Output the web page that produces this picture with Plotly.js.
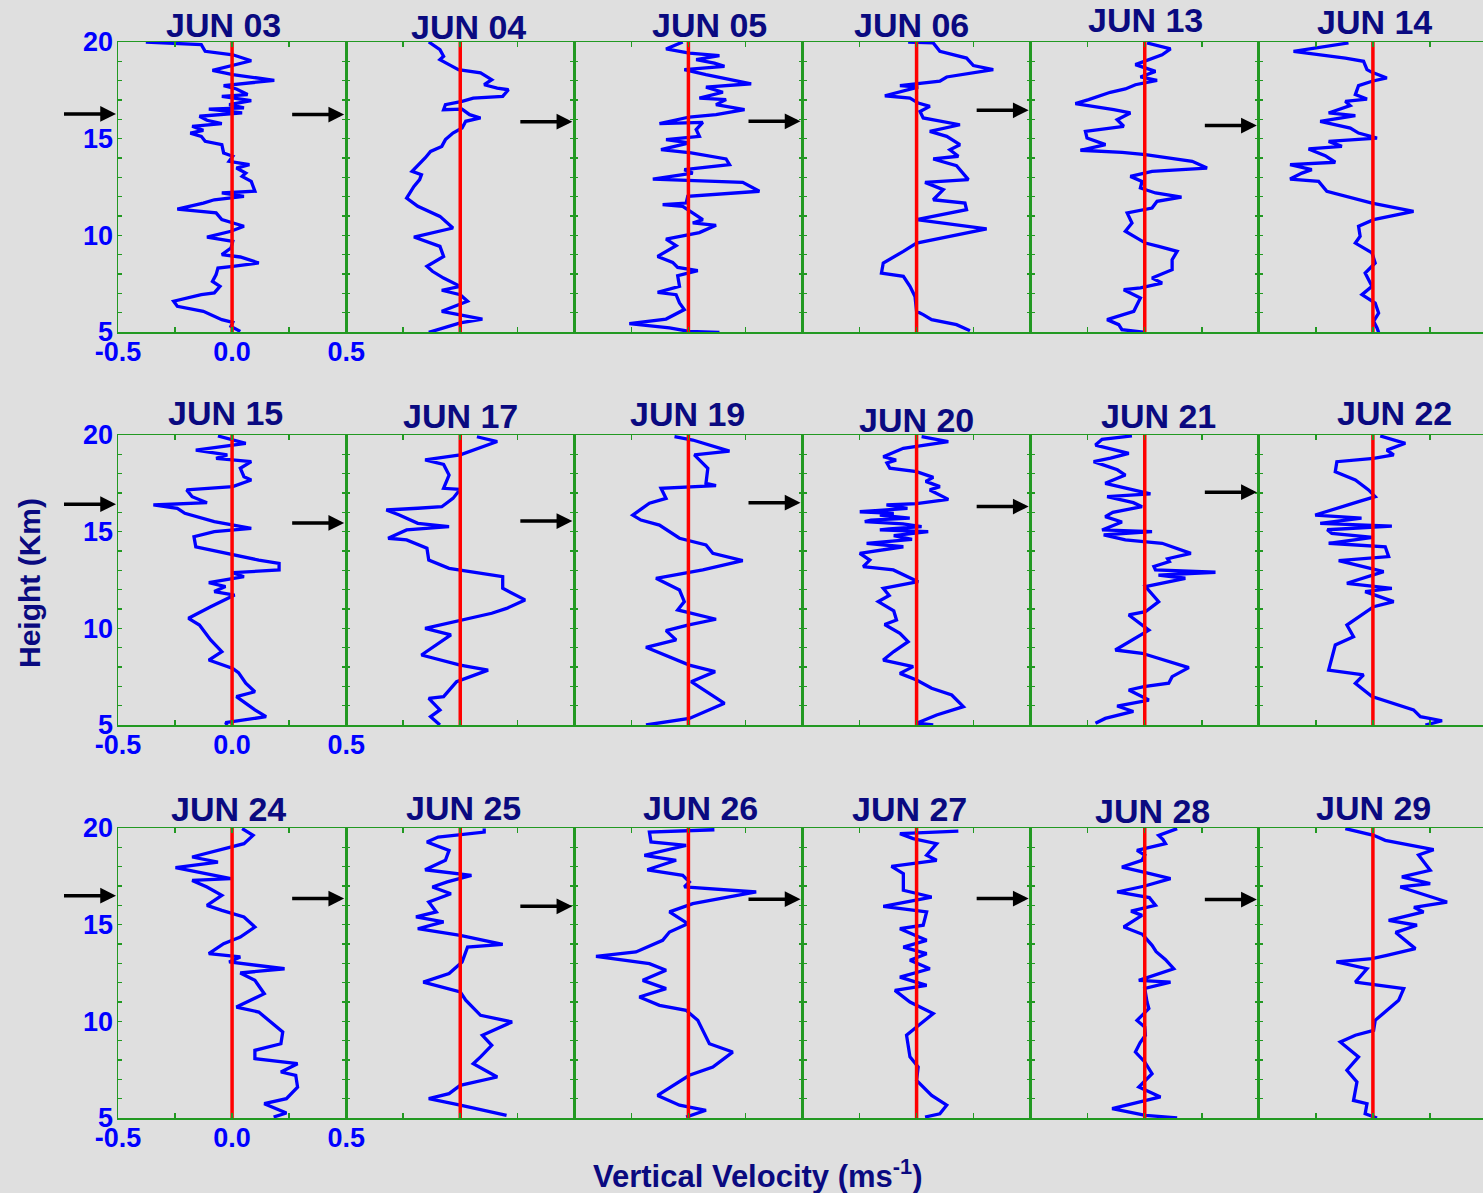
<!DOCTYPE html>
<html><head><meta charset="utf-8">
<script src="https://cdn.plot.ly/plotly-3.0.1.min.js"></script>
<style>html,body{margin:0;padding:0;overflow:hidden;background:#dfdfdf}</style>
</head><body><div id="chart"></div>
<script>
// ---------------- DATA ----------------
const dayLabels = ["JUN 03","JUN 04","JUN 05","JUN 06","JUN 13","JUN 14",
                   "JUN 15","JUN 17","JUN 19","JUN 20","JUN 21","JUN 22",
                   "JUN 24","JUN 25","JUN 26","JUN 27","JUN 28","JUN 29"];

// each profile: [height (km), vertical velocity (m/s)]
const jun03 = [[20,-0.378],[19.86,-0.135],[19.52,-0.118],[19.34,0.003],[19.03,0.084],[18.53,-0.086],[18.31,0.003],[18.02,0.185],[17.74,-0.037],[17.57,0.019],[17.28,0.068],[17.19,-0.045],[16.97,0.084],[16.76,-0.013],[16.59,0.052],[16.53,-0.102],[16.33,0.044],[16.16,-0.143],[15.95,-0.11],[15.78,-0.045],[15.64,-0.175],[15.43,-0.126],[15.29,-0.183],[15.12,-0.135],[14.86,-0.118],[14.69,-0.045],[14.26,-0.037],[14.09,0.003],[13.83,-0.013],[13.66,0.076],[13.48,0.019],[13.22,0.06],[13.05,0.044],[12.79,0.084],[12.28,0.1],[12.19,-0.045],[12.02,0.052],[11.84,-0.078],[11.67,-0.126],[11.36,-0.24],[11.16,-0.07],[10.81,-0.045],[10.47,0.052],[10.21,-0.005],[9.91,-0.11],[9.69,0.003],[9.34,-0.005],[9.0,-0.045],[8.88,0.036],[8.57,0.117],[8.4,0.003],[8.31,-0.062],[7.97,-0.07],[7.62,-0.086],[7.36,-0.053],[7.02,-0.078],[6.93,-0.135],[6.59,-0.256],[6.33,-0.24],[6.07,-0.126],[5.64,-0.045],[5.5,0.003],[5.29,-0.005],[5.03,0.036]];
const jun04 = [[20,-0.138],[19.78,-0.113],[19.6,-0.089],[19.26,-0.073],[19.09,-0.089],[18.83,-0.049],[18.57,-0.008],[18.4,0.089],[18.05,0.138],[17.79,0.105],[17.62,0.162],[17.53,0.211],[17.19,0.186],[17.1,0.057],[16.93,0.008],[16.76,-0.065],[16.5,-0.073],[16.53,0.008],[16.24,0.041],[16.07,0.089],[15.9,0.024],[15.55,0.008],[15.29,-0.032],[14.95,-0.065],[14.6,-0.081],[14.34,-0.13],[14.0,-0.154],[13.31,-0.211],[13.14,-0.17],[12.88,-0.178],[12.53,-0.203],[11.93,-0.235],[11.5,-0.186],[10.98,-0.089],[10.38,-0.032],[9.91,-0.203],[9.6,-0.13],[9.43,-0.089],[8.91,-0.073],[8.4,-0.146],[8.14,-0.122],[7.79,-0.073],[7.36,0],[7.16,-0.081],[6.93,0],[6.59,0.032],[6.07,-0.081],[5.9,0],[5.67,0.097],[5.47,0],[5.21,-0.073],[4.98,-0.138]];
const jun05 = [[20,-0.025],[19.64,-0.098],[19.43,0.004],[19.29,0.136],[19.09,0.034],[18.91,0.114],[18.74,0.158],[18.57,-0.018],[18.31,0.077],[18.05,0.194],[17.84,0.275],[17.67,0.077],[17.4,0.151],[17.1,0.048],[17.02,0.165],[16.76,0.121],[16.5,0.246],[16.24,0.121],[16.12,0.004],[15.78,-0.127],[15.84,0.063],[15.47,0.034],[15.12,0.048],[14.95,-0.098],[14.78,0.004],[14.43,-0.12],[14.26,0.012],[13.95,0.165],[13.66,0.18],[13.4,-0.018],[13.22,0.019],[12.91,-0.156],[12.74,0.238],[12.28,0.311],[12.02,-0.003],[11.67,-0.01],[11.59,-0.113],[11.5,-0.025],[11.07,0.034],[10.81,0.063],[10.64,0.019],[10.52,0.121],[10.14,0.048],[9.8,-0.098],[9.47,-0.054],[8.91,-0.135],[8.6,-0.069],[8.34,-0.047],[8.17,0.041],[7.91,-0.047],[7.36,-0.039],[7.05,-0.135],[6.93,-0.054],[6.5,-0.039],[6.16,-0.018],[5.67,-0.098],[5.43,-0.259],[5.21,-0.083],[5.03,0.004],[4.98,0.136]];
const jun06 = [[20,-0.037],[19.95,0.073],[19.52,0.102],[19.17,0.219],[18.78,0.249],[18.57,0.336],[18.19,0.132],[17.97,0.102],[17.74,-0.073],[17.67,0.007],[17.22,-0.139],[17.1,-0.029],[16.84,0.007],[16.67,0.058],[16.41,0.015],[16.07,0.029],[15.72,0.19],[15.38,0.058],[15.12,0.132],[14.69,0.19],[14.43,0.146],[14.09,0.183],[13.95,0.073],[13.6,0.175],[12.88,0.227],[12.74,0.037],[12.36,0.117],[11.84,0.073],[11.67,0.212],[11.33,0.219],[10.81,0],[10.33,0.307],[9.6,0],[9.17,-0.058],[8.57,-0.146],[8.05,-0.154],[7.88,-0.058],[7.36,-0.029],[6.84,-0.007],[6.07,0],[5.9,0.029],[5.64,0.066],[5.38,0.175],[5.07,0.234]];
const jun13 = [[19.95,0.01],[19.64,0.113],[19.34,0.076],[18.83,-0.041],[18.48,0.047],[18.19,-0.019],[18.02,0.054],[17.79,-0.041],[17.57,-0.085],[17.4,-0.151],[17.02,-0.246],[16.81,-0.304],[16.5,-0.136],[16.33,-0.063],[15.98,-0.121],[15.64,-0.092],[15.38,-0.26],[15.03,-0.253],[14.69,-0.172],[14.4,-0.282],[14.29,-0.099],[14.17,0.003],[13.83,0.208],[13.48,0.273],[13.31,0.032],[13.05,-0.063],[12.79,-0.012],[12.45,-0.019],[12.19,0.047],[11.98,0.161],[11.76,0.054],[11.41,0.032],[11.16,-0.077],[10.64,-0.056],[10.21,-0.085],[9.6,0.003],[9.43,0.061],[9.17,0.142],[8.74,0.12],[8.22,0.12],[7.79,0.032],[7.53,0.076],[7.28,-0.019],[7.19,-0.092],[6.76,-0.019],[6.07,-0.048],[5.64,-0.165],[5.38,-0.114],[5.12,-0.1],[4.98,0.003]];
const jun14 = [[19.95,-0.107],[19.52,-0.348],[19.17,-0.121],[19.0,-0.041],[18.57,-0.026],[18.43,-0.004],[18.14,0.061],[17.97,-0.004],[17.74,-0.063],[17.28,-0.077],[17.05,-0.026],[16.93,-0.121],[16.71,-0.1],[16.33,-0.194],[16.19,-0.077],[15.9,-0.231],[15.55,-0.099],[15.29,-0.063],[15.03,0.018],[14.86,-0.194],[14.6,-0.136],[14.47,-0.282],[14.12,-0.209],[13.78,-0.165],[13.66,-0.363],[13.4,-0.268],[13.22,-0.311],[12.91,-0.363],[12.79,-0.238],[12.28,-0.202],[11.67,-0.004],[11.24,0.178],[10.81,0.003],[10.47,-0.063],[9.95,-0.056],[9.6,-0.077],[9.09,-0.004],[8.57,0.01],[8.05,-0.034],[7.36,-0.004],[6.93,-0.048],[6.5,0.01],[5.98,0.025],[5.55,0.003],[5.21,0.018],[4.98,0.025]];
const jun15 = [[19.95,-0.062],[19.57,0.06],[19.22,-0.159],[18.97,-0.021],[18.79,-0.07],[18.62,0.084],[18.28,0.036],[17.84,0.052],[17.67,0.084],[17.33,0.003],[17.16,-0.199],[16.81,-0.175],[16.5,-0.11],[16.38,-0.345],[16.21,-0.24],[15.95,-0.207],[15.52,-0.078],[15.34,0.003],[15.17,0.084],[15.0,-0.078],[14.74,-0.167],[14.22,-0.159],[13.97,-0.062],[13.83,-0.005],[13.53,0.117],[13.36,0.206],[13.02,0.206],[12.88,0.003],[12.67,0.052],[12.36,-0.102],[12.16,-0.029],[11.9,-0.078],[11.72,0.011],[11.12,-0.094],[10.52,-0.191],[10.17,-0.143],[9.4,-0.094],[8.79,-0.045],[8.36,-0.102],[7.93,0.003],[7.71,0.028],[7.16,0.06],[6.72,0.1],[6.47,0.019],[5.78,0.1],[5.43,0.149],[5.12,-0.029],[5.0,-0.02]];
const jun17 = [[19.91,0.073],[19.66,0.162],[18.97,0],[18.71,-0.154],[18.48,-0.073],[17.93,-0.049],[17.24,-0.073],[17.19,0],[16.72,-0.032],[16.29,-0.081],[16.21,-0.186],[16.12,-0.324],[15.86,-0.267],[15.43,-0.186],[15.26,-0.049],[15.09,-0.235],[14.66,-0.316],[14.57,-0.235],[14.14,-0.146],[13.53,-0.138],[13.1,-0.049],[12.67,0.186],[12.07,0.186],[11.47,0.284],[11.03,0.203],[10.78,0.138],[10.0,-0.154],[9.66,-0.041],[8.62,-0.17],[8.1,0],[7.84,0.122],[7.24,-0.016],[6.47,-0.073],[6.38,-0.138],[5.78,-0.089],[5.43,-0.13],[5.0,-0.089]];
const jun19 = [[19.91,-0.061],[19.74,0.019],[19.17,0.18],[18.97,0.026],[18.28,0.085],[17.5,0.077],[17.38,0.121],[17.24,-0.12],[16.72,-0.098],[16.47,-0.171],[15.86,-0.244],[15.6,-0.208],[15.34,-0.127],[14.66,-0.039],[14.31,0.077],[13.88,0.107],[13.5,0.238],[13.02,0.063],[12.59,-0.142],[11.98,-0.039],[11.38,-0.018],[10.95,-0.047],[10.47,0.121],[10.17,-0.003],[9.88,-0.098],[9.4,-0.054],[9.02,-0.186],[8.1,0.004],[7.76,0.117],[7.24,0.012],[6.12,0.158],[5.34,0.004],[5.0,-0.186]];
const jun20 = [[19.91,0.022],[19.66,0.139],[19.31,-0.058],[18.88,-0.146],[18.7,-0.09],[18.55,-0.13],[18.28,-0.117],[18.1,0],[17.81,0.073],[17.6,0.04],[17.33,0.102],[17.16,0.058],[16.67,0.139],[16.45,0.0],[16.38,-0.132],[16.2,-0.04],[16.03,-0.249],[15.95,-0.1],[15.86,-0.161],[15.7,-0.03],[15.6,-0.2],[15.52,-0.227],[15.4,-0.06],[15.26,0.022],[15.15,-0.12],[15.09,-0.161],[15.0,0.051],[14.8,-0.1],[14.6,-0.02],[14.4,-0.219],[14.22,-0.058],[13.88,-0.249],[13.53,-0.205],[13.19,-0.234],[13.02,-0.102],[12.41,0.007],[12.07,-0.146],[11.7,-0.12],[11.38,-0.168],[10.9,-0.1],[10.43,-0.088],[10.2,-0.14],[9.74,-0.073],[9.31,-0.037],[8.8,-0.1],[8.36,-0.146],[8.02,-0.015],[7.67,-0.073],[7.33,0],[6.9,0.066],[6.55,0.154],[5.95,0.205],[5.52,0.088],[5.09,0],[5.0,0.073]];
const jun21 = [[19.95,-0.056],[19.78,-0.187],[19.48,-0.216],[19.05,-0.07],[18.8,-0.15],[18.62,-0.224],[18.2,-0.12],[17.93,-0.085],[17.5,-0.173],[17.16,-0.056],[16.95,0.025],[16.81,-0.165],[16.5,-0.05],[16.29,-0.012],[16.0,-0.14],[15.78,-0.173],[15.5,-0.1],[15.09,-0.187],[15.0,0.032],[14.83,-0.18],[14.57,-0.085],[14.4,0.076],[13.88,0.202],[13.6,0.1],[13.45,0.108],[13.2,0.04],[13.02,0.047],[12.9,0.31],[12.75,0.06],[12.59,0.178],[12.16,0.003],[11.38,0.061],[10.86,0.003],[10.69,-0.07],[9.91,0.018],[8.88,-0.129],[8.71,-0.012],[7.97,0.193],[7.5,0.12],[7.16,0.105],[6.98,-0.004],[6.81,-0.07],[6.29,0.018],[5.98,-0.121],[5.7,-0.05],[5.34,-0.173],[5.09,-0.216]];
const jun22 = [[19.95,0.032],[19.57,0.142],[19.22,0.061],[18.97,0.091],[18.79,0.003],[18.62,-0.158],[18.1,-0.165],[17.67,-0.077],[17.16,-0.019],[16.81,0.01],[16.55,-0.063],[15.86,-0.253],[15.7,-0.05],[15.43,-0.231],[15.29,0.083],[15.1,-0.2],[14.91,-0.18],[14.7,0.0],[14.4,-0.194],[14.22,0.054],[13.71,0.069],[13.5,-0.15],[12.93,0.047],[12.33,-0.114],[12.07,0.083],[11.9,-0.034],[11.38,0.091],[11.12,0.003],[10.17,-0.114],[9.57,-0.085],[9.14,-0.165],[7.84,-0.194],[7.59,-0.041],[7.16,-0.077],[6.47,-0.004],[6.12,0.083],[5.78,0.178],[5.43,0.208],[5.22,0.303],[5.0,0.23]];
const jun24 = [[19.97,0.044],[19.62,0.092],[19.19,0.052],[18.93,-0.029],[18.5,-0.175],[18.24,-0.062],[17.95,-0.248],[17.38,-0.005],[17.29,-0.175],[16.95,-0.11],[16.52,-0.045],[16.0,-0.11],[15.74,-0.045],[15.4,0.052],[14.88,0.1],[14.36,0.036],[14.02,-0.037],[13.5,-0.102],[13.33,0.036],[13.07,-0.013],[12.72,0.23],[12.5,0.036],[12.12,0.1],[11.43,0.141],[10.74,0.019],[10.48,0.117],[9.79,0.19],[9.45,0.222],[8.84,0.214],[8.5,0.1],[8.07,0.1],[7.81,0.287],[7.38,0.214],[7.21,0.279],[6.6,0.287],[6.0,0.238],[5.74,0.141],[5.26,0.238],[5.05,0.182]];
const jun25 = [[19.97,0.105],[19.79,0.105],[19.53,-0.097],[19.28,-0.146],[18.84,-0.049],[18.33,-0.065],[17.84,-0.154],[17.55,0.049],[17.21,-0.057],[16.95,-0.122],[16.6,-0.041],[16.17,-0.138],[15.66,-0.105],[15.4,-0.194],[15.14,-0.073],[14.79,-0.186],[14.45,0],[13.98,0.186],[13.84,0.032],[13.07,0.008],[12.47,-0.049],[12.03,-0.162],[11.52,0],[11.09,0.024],[10.31,0.089],[9.97,0.227],[9.28,0.097],[8.76,0.138],[8.16,0.089],[7.81,0.057],[7.12,0.162],[6.69,0],[6.26,-0.049],[6.0,-0.138],[5.66,0],[5.14,0.203]];
const jun26 = [[19.91,0.114],[19.79,-0.171],[19.28,-0.164],[19.1,-0.01],[18.59,-0.193],[18.33,-0.054],[17.84,-0.18],[17.55,-0.025],[17.21,0.004],[16.95,-0.018],[16.69,0.297],[16.09,0.019],[15.66,-0.083],[15.05,-0.003],[14.62,-0.083],[14.19,-0.113],[13.59,-0.23],[13.36,-0.405],[12.98,-0.171],[12.64,-0.098],[12.12,-0.2],[11.69,-0.098],[11.26,-0.215],[10.83,-0.127],[10.57,-0.01],[10.05,0.041],[8.84,0.092],[8.41,0.194],[7.64,0.107],[7.21,0.004],[6.17,-0.135],[5.66,-0.039],[5.4,0.077],[5.05,-0.01]];
const jun27 = [[19.84,0.183],[19.71,-0.073],[19.45,-0.015],[19.19,0.088],[18.59,0.044],[18.33,0.088],[18.02,-0.11],[17.64,-0.058],[16.78,-0.058],[16.43,0.066],[15.95,-0.146],[15.66,0.044],[14.97,0.029],[14.79,-0.073],[14.19,0.044],[13.84,-0.058],[13.5,0.044],[13.16,-0.029],[12.72,0.058],[12.29,-0.073],[11.86,0.044],[11.6,-0.095],[11.0,-0.029],[10.4,0.073],[9.71,0],[9.28,-0.044],[8.16,-0.029],[7.64,0.007],[6.95,0],[6.17,0.066],[5.66,0.132],[5.22,0.102],[5.05,0.037]];
const jun28 = [[19.97,0.142],[19.62,0.061],[19.4,0.08],[19.19,0.091],[18.84,-0.034],[18.6,0.0],[18.33,-0.012],[17.98,-0.1],[17.7,0.0],[17.38,0.113],[17.0,0.0],[16.69,-0.121],[16.4,0.02],[16.0,0.047],[15.7,-0.06],[15.48,-0.012],[15.2,-0.05],[14.88,-0.092],[14.5,-0.01],[13.93,0.032],[13.6,0.05],[13.2,0.09],[12.72,0.127],[12.12,-0.026],[12.03,0.113],[11.7,0.0],[11.0,0.01],[10.66,0.018],[10.05,-0.034],[9.7,0.0],[9.28,0.003],[8.9,-0.02],[8.41,-0.041],[7.9,0.0],[7.29,0.032],[6.6,-0.026],[6.09,0.069],[5.48,-0.143],[5.14,0.003],[5.0,0.142]];
const jun29 = [[19.97,-0.121],[19.62,0.003],[19.36,0.054],[18.88,0.266],[18.6,0.2],[17.81,0.251],[17.47,0.127],[17.12,0.251],[16.95,0.12],[16.17,0.325],[15.9,0.18],[15.66,0.222],[15.22,0.069],[14.97,0.193],[14.6,0.1],[13.76,0.186],[13.41,0.061],[13.24,-0.004],[13.07,-0.16],[12.72,-0.026],[12.03,-0.077],[11.69,0.135],[11.09,0.113],[10.57,0.061],[10.05,0.01],[9.53,0.003],[9.28,-0.077],[8.93,-0.143],[8.16,-0.063],[7.47,-0.114],[6.86,-0.07],[5.91,-0.085],[5.74,-0.026],[5.22,-0.034],[5.0,0.018]];

const profiles = [jun03,jun04,jun05,jun06,jun13,jun14,jun15,jun17,jun19,jun20,jun21,jun22,jun24,jun25,jun26,jun27,jun28,jun29];

// height of the black arrow marker in each panel (km)
const arrowHeights = [16.28,16.25,15.88,15.9,16.47,15.68,
                      16.42,15.45,15.55,16.5,16.3,17.04,
                      16.5,16.35,15.95,16.32,16.35,16.3];

const xTickVals = [-0.5,-0.25,0,0.25,0.5];
const xTickText = ["-0.5","","0.0","","0.5"];
const yTickVals = [5,6,7,8,9,10,11,12,13,14,15,16,17,18,19,20];
const yTickText = ["5","","","","","10","","","","","15","","","","","20"];

// ---------------- LAYOUT ----------------
const W = 1487, H = 1193, ML = 118, MT = 42, MB = 75;
const plotW = W - ML, plotH = H - MT - MB;
const rowTop = [42, 435, 828], rowBot = [332, 725, 1118];
const pxX = p => (p - ML) / plotW;
const pxY = p => (H - MB - p) / plotH;
const titleDx = [-9,8,21,-5,1,2, -7,0,-1,0,14,22, -4,3,12,-7,8,1];
const titleY = [25,27,25,25,20,22, 413,416,414,420,416,413, 809,808,808,809,811,808];

const GREEN = '#229922', NAVY = '#0a0a80', FONT = 'Liberation Sans, Arial, sans-serif';

const traces = [], annotations = [];
const layout = {
  width: W, height: H, showlegend: false,
  margin: {l: ML, r: 0, t: MT, b: MB, pad: 0},
  paper_bgcolor: '#dfdfdf', plot_bgcolor: 'rgba(0,0,0,0)',
  font: {family: FONT}
};

profiles.forEach((prof, i) => {
  const r = Math.floor(i / 6), c = i % 6, n = i + 1;
  const xk = 'x' + (n === 1 ? '' : n), yk = 'y' + (n === 1 ? '' : n);
  const xa = 'xaxis' + (n === 1 ? '' : n), ya = 'yaxis' + (n === 1 ? '' : n);
  layout[xa] = {
    domain: [c / 6, (c + 1) / 6], range: [-0.5, 0.5], anchor: yk,
    showline: true, linecolor: GREEN, linewidth: 1.5, mirror: 'ticks',
    ticks: 'inside', ticklen: 5, tickwidth: 1.5, tickcolor: GREEN,
    tickmode: 'array', tickvals: xTickVals, ticklabelstandoff: -5,
    ticktext: c === 0 ? xTickText : xTickVals.map(() => ' '),
    tickfont: {family: FONT, size: 27, color: '#0000ff', weight: 'bold'},
    showgrid: false, zeroline: false, fixedrange: true
  };
  layout[ya] = {
    domain: [pxY(rowBot[r]), pxY(rowTop[r])], range: [5, 20], anchor: xk,
    showline: true, linecolor: GREEN, linewidth: 1.5, mirror: 'ticks',
    ticks: 'inside', ticklen: 4, tickwidth: 1.5, tickcolor: GREEN,
    tickmode: 'array', tickvals: yTickVals, ticklabelstandoff: -2,
    ticktext: c === 0 ? yTickText : yTickVals.map(() => ' '),
    tickfont: {family: FONT, size: 27, color: '#0000ff', weight: 'bold'},
    showgrid: false, zeroline: false, fixedrange: true
  };
  traces.push({
    type: 'scatter', mode: 'lines', xaxis: xk, yaxis: yk,
    x: prof.map(p => p[1]), y: prof.map(p => p[0]),
    line: {color: '#0000ff', width: 3.3}, hoverinfo: 'skip'
  });
  traces.push({
    type: 'scatter', mode: 'lines', xaxis: xk, yaxis: yk,
    x: [0, 0], y: [5, 20], line: {color: '#ff0000', width: 3.5}, hoverinfo: 'skip'
  });
  const centerPx = ML + plotW * (c + 0.5) / 6;
  annotations.push({
    xref: 'paper', yref: 'paper', x: pxX(centerPx + titleDx[i]), y: pxY(titleY[i]),
    xanchor: 'center', yanchor: 'middle', showarrow: false,
    text: '<b>' + dayLabels[i] + '</b>',
    font: {family: FONT, size: 34, color: NAVY}
  });
  annotations.push({
    xref: xk, yref: yk, x: -0.5, y: arrowHeights[i], ax: -57, ay: 0,
    text: ' ', showarrow: true, arrowhead: 2, arrowsize: 0.9, arrowwidth: 3.5,
    arrowcolor: '#000000', standoff: 2
  });
});

annotations.push({
  xref: 'paper', yref: 'paper', x: pxX(30), y: pxY(583), xanchor: 'center', yanchor: 'middle',
  textangle: -90, showarrow: false, text: '<b>Height (Km)</b>',
  font: {family: FONT, size: 30, color: NAVY}
});
annotations.push({
  xref: 'paper', yref: 'paper', x: pxX(757), y: pxY(1174), xanchor: 'center', yanchor: 'middle',
  showarrow: false, text: '<b>Vertical Velocity (ms<sup>-1</sup>)</b>',
  font: {family: FONT, size: 31, color: NAVY}
});
layout.annotations = annotations;

Plotly.newPlot('chart', traces, layout, {displayModeBar: false, staticPlot: true});
</script>
</body></html>
